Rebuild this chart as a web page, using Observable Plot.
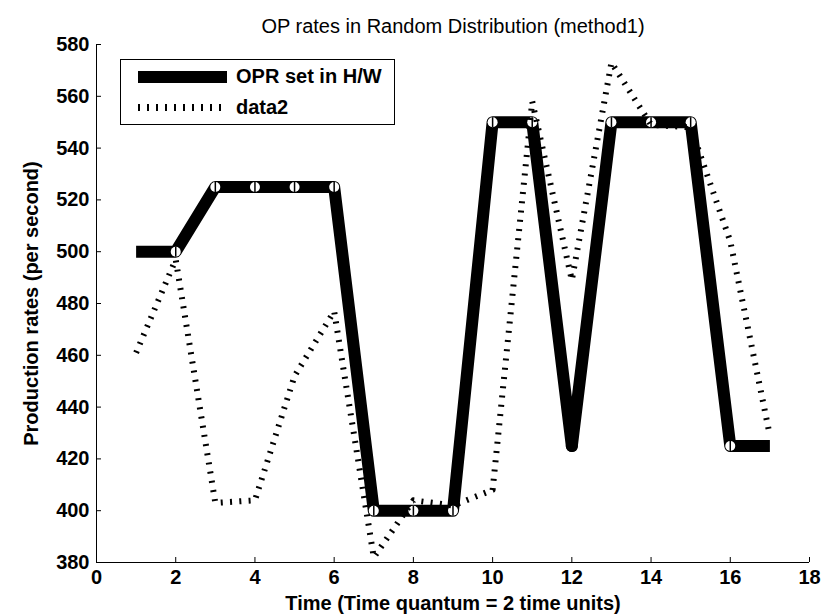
<!DOCTYPE html>
<html>
<head>
<meta charset="utf-8">
<script src="https://cdn.jsdelivr.net/npm/d3@7"></script>
<script src="https://cdn.jsdelivr.net/npm/@observablehq/plot@0.6"></script>
<style>
  body { margin: 0; background: #fff; }
  #wrap { position: relative; width: 833px; height: 616px; background: #fff; }
  #legend { position: absolute; left: 120px; top: 59px; border: 1px solid #000; background: #fff;
            padding: 1px 12px 1px 17px; }
  .row { display: flex; align-items: center; height: 31px; }
  .s1 { width: 89px; height: 12px; background: #000; margin-right: 9px; }
  .s2 { width: 89px; height: 7px; margin-right: 9px;
        background: repeating-linear-gradient(90deg, #000 0 2px, transparent 2px 9px); }
  .t { font: bold 20px "Liberation Sans", Arial, sans-serif; color: #000; white-space: nowrap; }
</style>
</head>
<body>
<div id="wrap"><div id="chart"></div><div id="legend"></div></div>
<script>
// ---- data ----
const time = [1, 2, 3, 4, 5, 6, 7, 8, 9, 10, 11, 12, 13, 14, 15, 16, 17];
const oprSet = [500, 500, 525, 525, 525, 525, 400, 400, 400, 550, 550, 425, 550, 550, 550, 425, 425];
const data2 = [461, 497, 403, 404, 452, 477, 382, 404, 402, 408, 558, 489, 573, 549, 548, 504, 429];
const markerTimes = [2, 3, 4, 5, 6, 7, 8, 9, 10, 11, 13, 14, 15, 16];
const filledMarkerTimes = [12];
const xTicks = [0, 2, 4, 6, 8, 10, 12, 14, 16, 18];
const yTicks = [380, 400, 420, 440, 460, 480, 500, 520, 540, 560, 580];
const seriesNames = ["OPR set in H/W", "data2"];
const titleText = "OP rates in Random Distribution (method1)";
const xLabel = "Time (Time quantum = 2 time units)";
const yLabel = "Production rates (per second)";

// ---- build ----
const rows = time.map((t, i) => ({t, opr: oprSet[i], d2: data2[i]}));
const markerRows = rows.filter(d => markerTimes.includes(d.t));
const filledRows = rows.filter(d => filledMarkerTimes.includes(d.t));
const vbar = {draw(ctx, size) { const r = Math.sqrt(size / Math.PI); ctx.moveTo(0, -r); ctx.lineTo(0, r); }};

const font = '"Liberation Sans", Arial, sans-serif';
const chart = Plot.plot({
  width: 833, height: 616,
  marginLeft: 96, marginRight: 24, marginTop: 44, marginBottom: 54,
  style: {fontFamily: font, fontSize: "20px", fontWeight: "bold", color: "#000", background: "#fff", overflow: "visible"},
  x: {domain: [0, 18]},
  y: {domain: [380, 580]},
  marks: [
    Plot.axisX(xTicks, {tickSize: -5, tickPadding: 12, label: xLabel, labelAnchor: "center", labelArrow: "none",
                        labelOffset: 47, fontSize: 20, fontWeight: "bold", stroke: "#000"}),
    Plot.axisY(yTicks, {tickSize: -5, tickPadding: 12, label: yLabel, labelAnchor: "center", labelArrow: "none",
                        labelOffset: 73, fontSize: 20, fontWeight: "bold", stroke: "#000"}),
    Plot.ruleX([0], {stroke: "#000", strokeWidth: 1}),
    Plot.ruleY([380], {stroke: "#000", strokeWidth: 1}),
    Plot.line(rows, {x: "t", y: "opr", stroke: "#000", strokeWidth: 12, strokeLinejoin: "round", strokeLinecap: "butt"}),
    Plot.dot(markerRows, {x: "t", y: "opr", r: 5, fill: "#fff", stroke: null}),
    Plot.dot(markerRows, {x: "t", y: "opr", r: 5, symbol: vbar, stroke: "#000", strokeWidth: 1.5}),
    Plot.dot(filledRows, {x: "t", y: "opr", r: 6, fill: "#000"}),
    Plot.line(rows, {x: "t", y: "d2", stroke: "#000", strokeWidth: 6, strokeDasharray: "2,7.3", strokeLinecap: "butt"}),
    Plot.text([titleText], {frameAnchor: "top", dy: -26, fontSize: 20, fontWeight: "normal", fill: "#000"})
  ]
});
document.getElementById("chart").appendChild(chart);

const legend = document.getElementById("legend");
seriesNames.forEach((name, i) => {
  const row = document.createElement("div");
  row.className = "row";
  const s = document.createElement("span");
  s.className = i === 0 ? "s1" : "s2";
  const t = document.createElement("span");
  t.className = "t";
  t.textContent = name;
  row.appendChild(s); row.appendChild(t);
  legend.appendChild(row);
});
</script>
</body>
</html>
